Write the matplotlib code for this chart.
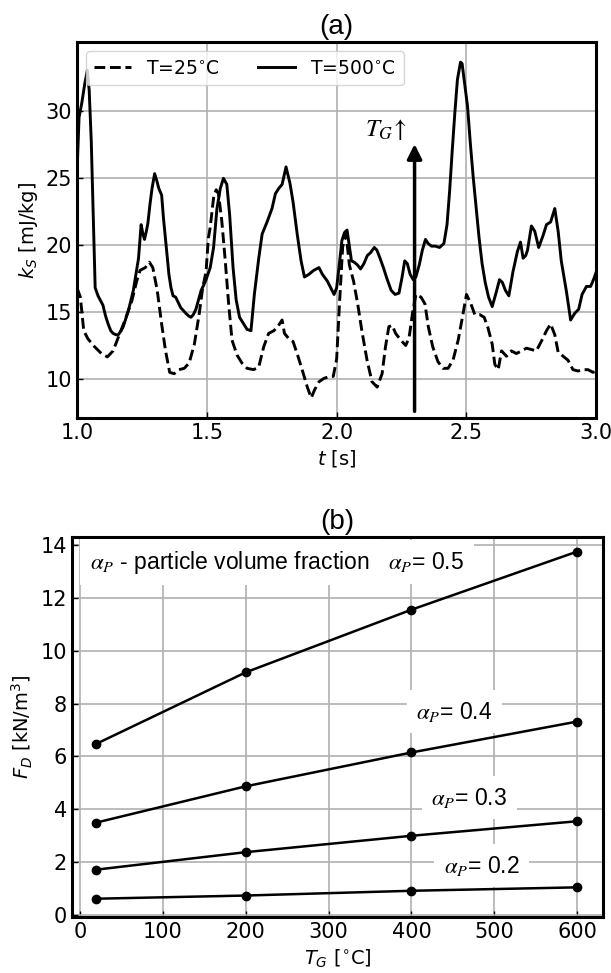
import matplotlib
matplotlib.use('Agg')
import matplotlib.pyplot as plt

# (a) turbulent kinetic energy of solids vs time
t_500 = [1.000, 1.008, 1.018, 1.030, 1.040, 1.047, 1.055, 1.063, 1.070, 1.081,
         1.092, 1.100, 1.110, 1.120, 1.130, 1.139, 1.150, 1.159, 1.170, 1.178,
         1.188, 1.198, 1.207, 1.217, 1.227, 1.237, 1.247, 1.254, 1.260, 1.267,
         1.273, 1.281, 1.289, 1.299, 1.307, 1.315, 1.326, 1.333, 1.339, 1.347,
         1.354, 1.362, 1.370, 1.380, 1.390, 1.400, 1.410, 1.419, 1.430, 1.439,
         1.448, 1.458, 1.468, 1.478, 1.488, 1.497, 1.513, 1.526, 1.539, 1.552,
         1.564, 1.577, 1.588, 1.601, 1.613, 1.626, 1.642, 1.655, 1.670, 1.683,
         1.700, 1.713, 1.732, 1.751, 1.764, 1.777, 1.790, 1.805, 1.820, 1.832,
         1.848, 1.863, 1.876, 1.893, 1.912, 1.932, 1.945, 1.964, 1.977, 1.990,
         2.000, 2.010, 2.020, 2.030, 2.040, 2.048, 2.057, 2.068, 2.080, 2.092,
         2.105, 2.118, 2.130, 2.145, 2.155, 2.167, 2.180, 2.195, 2.210, 2.225,
         2.240, 2.252, 2.262, 2.272, 2.283, 2.295, 2.305, 2.318, 2.330, 2.342,
         2.352, 2.365, 2.380, 2.396, 2.413, 2.425, 2.435, 2.445, 2.455, 2.465,
         2.477, 2.483, 2.493, 2.504, 2.515, 2.526, 2.537, 2.548, 2.560, 2.572,
         2.585, 2.599, 2.615, 2.627, 2.638, 2.650, 2.663, 2.679, 2.696, 2.708,
         2.718, 2.728, 2.735, 2.750, 2.763, 2.778, 2.795, 2.808, 2.824, 2.832,
         2.840, 2.853, 2.865, 2.885, 2.901, 2.917, 2.932, 2.945, 2.962, 2.978,
         2.991, 3.000]
k_500 = [25.3, 29.5, 30.5, 32.0, 33.0, 31.5, 27.7, 22.0, 16.8, 16.2,
         15.8, 15.5, 14.7, 14.1, 13.6, 13.4, 13.3, 13.3, 13.6, 13.9,
         14.5, 15.1, 15.8, 16.6, 17.8, 19.0, 21.5, 20.8, 20.4, 21.0,
         21.6, 23.0, 24.2, 25.3, 24.8, 24.2, 23.7, 22.0, 20.8, 19.2,
         17.8, 16.8, 16.2, 16.1, 15.7, 15.3, 15.1, 14.9, 14.7, 14.6,
         14.8, 15.2, 15.9, 16.6, 17.0, 17.4, 18.3, 19.8, 22.7, 24.2,
         24.95, 24.5, 22.2, 18.3, 15.9, 14.6, 14.1, 13.7, 13.6, 16.3,
         19.0, 20.8, 21.7, 22.7, 23.8, 24.2, 24.5, 25.8, 24.6, 23.2,
         20.8, 18.8, 17.6, 17.8, 18.1, 18.3, 17.8, 17.3, 16.8, 16.3,
         16.8, 18.5, 20.3, 20.9, 21.1, 20.0, 18.8, 18.7, 18.5, 18.2,
         18.6, 19.2, 19.4, 19.8, 19.6, 19.0, 18.3, 17.4, 16.6, 16.3,
         16.4, 17.6, 18.8, 18.6, 17.8, 17.4, 17.6, 18.5, 19.6, 20.4,
         20.1, 19.9, 19.9, 19.8, 20.1, 21.5, 24.0, 27.0, 29.8, 32.3,
         33.6, 33.5, 32.0, 30.3, 27.5, 25.0, 22.8, 20.6, 18.6, 17.2,
         16.1, 15.4, 16.5, 17.4, 17.2, 16.6, 16.2, 18.0, 19.5, 20.2,
         19.0, 19.2, 19.6, 21.4, 21.0, 19.8, 20.7, 21.5, 21.7, 22.2,
         22.7, 21.0, 18.8, 16.5, 14.4, 14.9, 15.2, 16.3, 16.9, 16.9,
         17.5, 18.0]

t_25 = [1.000, 1.013, 1.026, 1.042, 1.068, 1.094, 1.117, 1.139, 1.159, 1.185,
        1.211, 1.230, 1.243, 1.263, 1.279, 1.292, 1.309, 1.326, 1.341, 1.357,
        1.374, 1.393, 1.413, 1.432, 1.452, 1.471, 1.484, 1.497, 1.506, 1.513,
        1.526, 1.536, 1.545, 1.558, 1.571, 1.584, 1.597, 1.616, 1.635, 1.655,
        1.680, 1.700, 1.719, 1.738, 1.758, 1.773, 1.790, 1.799, 1.816, 1.832,
        1.851, 1.867, 1.887, 1.902, 1.915, 1.932, 1.951, 1.974, 1.987, 2.000,
        2.010, 2.023, 2.032, 2.039, 2.049, 2.065, 2.081, 2.097, 2.117, 2.136,
        2.156, 2.175, 2.188, 2.201, 2.214, 2.227, 2.247, 2.266, 2.279, 2.292,
        2.305, 2.325, 2.340, 2.353, 2.370, 2.390, 2.409, 2.429, 2.448, 2.468,
        2.487, 2.500, 2.517, 2.532, 2.551, 2.568, 2.583, 2.599, 2.609, 2.622,
        2.635, 2.654, 2.673, 2.692, 2.712, 2.731, 2.750, 2.769, 2.788, 2.808,
        2.824, 2.840, 2.853, 2.872, 2.891, 2.910, 2.929, 2.949, 2.968, 2.987,
        3.000]
k_25 = [16.8, 16.1, 13.6, 13.0, 12.4, 11.9, 11.65, 12.1, 13.1, 14.4,
        15.8, 17.3, 18.1, 18.3, 18.7, 18.3, 16.6, 14.1, 12.1, 10.5,
        10.4, 10.7, 10.8, 11.2, 12.6, 14.9, 16.8, 18.0, 20.5, 21.3,
        23.5, 24.1, 23.8, 21.7, 18.8, 15.6, 12.9, 11.8, 11.2, 10.8,
        10.7, 10.9, 12.4, 13.4, 13.6, 13.9, 14.4, 13.4, 13.0, 12.8,
        11.7, 10.7, 9.4, 8.6, 9.2, 9.8, 10.05, 10.2, 10.2, 11.5,
        15.3, 19.8, 20.8, 20.3, 18.5, 17.3, 15.6, 13.6, 11.4, 9.8,
        9.4, 10.4, 12.4, 13.9, 14.0, 13.4, 12.9, 12.5, 13.1, 14.9,
        16.3, 16.1, 15.6, 13.9, 12.4, 11.3, 10.8, 10.8, 11.4, 12.9,
        14.9, 16.3, 15.6, 14.8, 14.8, 14.6, 13.8, 12.6, 11.1, 10.7,
        12.1, 11.7, 12.1, 11.9, 12.1, 12.3, 12.2, 12.1, 12.8, 13.6,
        14.1, 13.3, 12.0, 11.7, 11.4, 10.7, 10.6, 10.7, 10.7, 10.5,
        10.6]

# (b) drag force vs gas temperature
temp_g = [20, 200, 400, 600]
fd_05 = [6.48, 9.18, 11.55, 13.75]
fd_04 = [3.50, 4.87, 6.15, 7.32]
fd_03 = [1.72, 2.38, 3.00, 3.55]
fd_02 = [0.62, 0.74, 0.92, 1.05]

SANS = 'Liberation Sans'
GRID = '#b0b0b0'

fig = plt.figure(figsize=(6.11, 9.73), dpi=100)
ax1 = fig.add_axes([0.126, 0.5704, 0.850, 0.3864])
ax2 = fig.add_axes([0.1178, 0.0576, 0.869, 0.3905])

for ax in (ax1, ax2):
    ax.set_axisbelow(True)
    ax.grid(True, color=GRID, lw=1.2)
    ax.tick_params(direction='in', length=4, width=1, labelsize=15)
    for sp in ax.spines.values():
        sp.set_linewidth(2.2)

# ---- (a)
ax1.plot(t_25, k_25, 'k--', lw=2.1, label=r'T=25$^{\circ}$C')
ax1.plot(t_500, k_500, 'k-', lw=2.1, label=r'T=500$^{\circ}$C')
ax1.set_xlim(1.0, 3.0)
ax1.set_ylim(7.1, 35.1)
ax1.set_xticks([1.0, 1.5, 2.0, 2.5, 3.0])
ax1.set_yticks([10, 15, 20, 25, 30])
ax1.set_xlabel(r'$t$ [s]', fontsize=14)
ax1.set_ylabel(r'$k_S$ [mJ/kg]', fontsize=14)
ax1.set_title('(a)', family=SANS, fontsize=20, pad=6)
ax1.legend(loc='upper left', ncol=2, fontsize=13.5, framealpha=0.8)

ax1.annotate('', xy=(2.3, 27.5), xytext=(2.3, 7.6),
             arrowprops=dict(arrowstyle='-|>', color='black', lw=2.5,
                             mutation_scale=22, shrinkA=0, shrinkB=0))
ax1.text(2.19, 28.6, r'$T_G\!\uparrow$', math_fontfamily='stix',
         fontsize=18, ha='center', va='center')

# ---- (b)
for fd in (fd_05, fd_04, fd_03, fd_02):
    ax2.plot(temp_g, fd, 'k-', lw=1.8, marker='o', ms=6)
ax2.set_xlim(-9.5, 631)
ax2.set_ylim(-0.07, 14.3)
ax2.set_xticks(range(0, 601, 100))
ax2.set_yticks(range(0, 15, 2))
ax2.set_xlabel(r'$T_G$ [$^{\circ}$C]', fontsize=14)
ax2.set_ylabel(r'$F_D$ [kN/m$^3$]', fontsize=14)
ax2.set_title('(b)', family=SANS, fontsize=20, pad=6)

box = dict(facecolor='white', edgecolor='none', pad=7)
txt = dict(family=SANS, math_fontfamily='stix', fontsize=16.5, va='center', bbox=box)
ax2.text(12, 13.35, r'$\alpha_P$ - particle volume fraction', ha='left', **txt)
ax2.text(372, 13.35, r'$\alpha_P$= 0.5', ha='left', **txt)
ax2.text(452, 7.7, r'$\alpha_P$= 0.4', ha='center', **txt)
ax2.text(470, 4.44, r'$\alpha_P$= 0.3', ha='center', **txt)
ax2.text(485, 1.87, r'$\alpha_P$= 0.2', ha='center', **txt)

fig.savefig('out.png', dpi=100)
